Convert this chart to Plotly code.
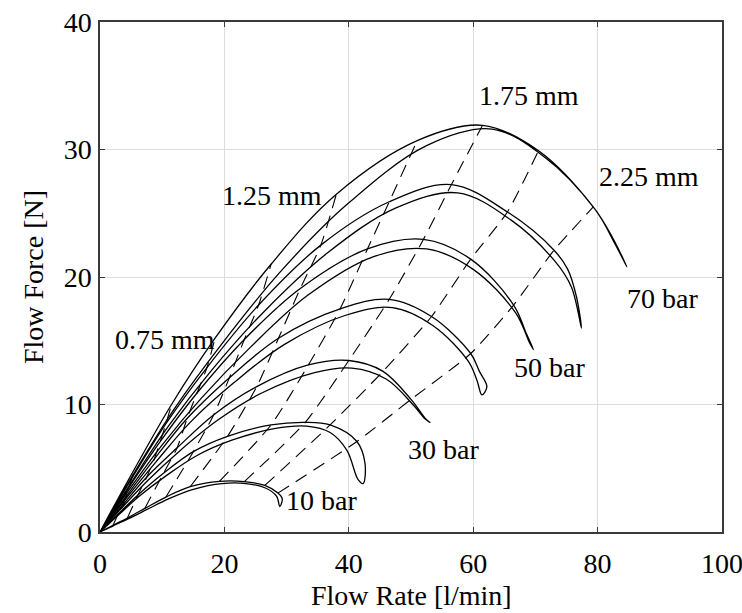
import plotly.graph_objects as go

# Valve opening steps (mm) at which every pressure curve is sampled
openings_mm = [0, 0.25, 0.5, 0.75, 1.0, 1.25, 1.5, 1.75, 2.0, 2.25]
pressures_bar = [10, 20, 30, 40, 50, 60, 70]

# Opening stroke: flow rate [l/min] and flow force [N] at each opening step
q_open = {
    10: [0, 2.1, 4.4, 7.2, 10.6, 14.5, 19.2, 23.2, 26.5, 28.6],
    20: [0, 2.9, 6.1, 10.2, 15.0, 20.5, 27.5, 33.0, 37.0, 41.3],
    30: [0, 3.6, 7.5, 12.4, 18.3, 25.2, 33.5, 40.0, 45.5, 50.0],
    40: [0, 4.2, 8.7, 14.0, 20.8, 28.7, 38.6, 46.5, 53.3, 59.6],
    50: [0, 4.65, 9.7, 15.6, 23.2, 32.2, 43.0, 52.0, 59.6, 66.5],
    60: [0, 5.1, 10.6, 17.2, 25.5, 35.5, 46.5, 56.5, 65.5, 73.0],
    70: [0, 5.5, 11.5, 18.5, 27.5, 38.0, 51.0, 61.5, 70.5, 79.3],
}
f_open = {
    10: [0, 0.53, 1.1, 1.85, 2.74, 3.55, 3.97, 3.95, 3.65, 3.05],
    20: [0, 1.4, 2.9, 4.6, 6.3, 7.5, 8.4, 8.6, 8.4, 7.1],
    30: [0, 2.1, 4.3, 6.6, 9.2, 11.4, 13.1, 13.45, 12.6, 10.4],
    40: [0, 2.8, 5.7, 8.9, 12.1, 15.2, 17.5, 18.25, 16.9, 14.0],
    50: [0, 3.5, 7.1, 10.9, 15.1, 19.1, 22.2, 22.95, 21.4, 17.8],
    60: [0, 4.2, 8.5, 12.9, 17.8, 22.5, 25.9, 27.25, 25.1, 22.1],
    70: [0, 4.9, 10.0, 15.2, 21.0, 26.5, 30.7, 31.9, 29.9, 25.5],
}
# Run-out of the opening stroke beyond the last step (ends at the turning point)
q_open_end = {
    10: [29.3, 28.9],
    20: [42.6, 42.3],
    30: [52.5, 53.05],
    40: [61.0, 62.2, 61.4],
    50: [68.6, 69.7],
    60: [75.2, 76.6, 77.4],
    70: [82.5, 84.7],
}
f_open_end = {
    10: [2.6, 2.0],
    20: [5.4, 3.8],
    30: [8.8, 8.6],
    40: [12.6, 11.4, 10.75],
    50: [15.5, 14.3],
    60: [20.6, 18.45, 16.0],
    70: [23.0, 20.8],
}

# Closing stroke at the same opening steps
q_close = {
    10: [0, 2.2, 4.6, 7.5, 11.0, 15.0, 19.6, 23.5, 26.6, 28.4],
    20: [0, 3.0, 6.3, 10.6, 15.6, 21.2, 28.0, 33.2, 37.0, 39.7],
    30: [0, 3.7, 7.8, 12.9, 19.0, 26.0, 34.5, 40.5, 46.0, 50.3],
    40: [0, 4.3, 9.0, 14.5, 21.5, 29.6, 39.5, 47.0, 53.5, 59.2],
    50: [0, 4.8, 10.1, 16.3, 24.2, 33.5, 44.0, 52.5, 60.0, 66.8],
    60: [0, 5.3, 11.0, 17.8, 26.4, 36.6, 47.5, 57.5, 66.0, 73.2],
    70: [0, 5.7, 12.0, 19.5, 28.8, 39.5, 52.5, 63.0, 71.5, 79.6],
}
f_close = {
    10: [0, 0.5, 1.05, 1.75, 2.6, 3.35, 3.8, 3.8, 3.45, 2.8],
    20: [0, 1.35, 2.8, 4.4, 6.0, 7.2, 8.1, 8.3, 7.8, 6.4],
    30: [0, 2.0, 4.1, 6.4, 8.8, 10.9, 12.5, 12.85, 12.0, 10.0],
    40: [0, 2.7, 5.5, 8.6, 11.7, 14.7, 17.0, 17.6, 16.2, 13.4],
    50: [0, 3.4, 6.9, 10.5, 14.5, 18.6, 21.6, 22.2, 20.6, 17.2],
    60: [0, 4.1, 8.3, 12.6, 17.3, 21.9, 25.4, 26.6, 24.5, 21.2],
    70: [0, 4.8, 9.7, 14.7, 20.3, 25.6, 30.3, 31.6, 29.4, 25.3],
}
q_close_end = {10: [], 20: [41.5], 30: [52.2], 40: [60.6], 50: [69.1], 60: [75.8], 70: [82.8]}
f_close_end = {10: [], 20: [4.1], 30: [8.9], 40: [11.9], 50: [14.8], 60: [19.2], 70: [22.6]}

pressure_labels = ["10 bar", "30 bar", "50 bar", "70 bar"]
pressure_label_q = [35.6, 55.3, 72.2, 90.5]
pressure_label_f = [2.5, 6.5, 12.9, 18.3]

opening_labels = ["0.75 mm", "1.25 mm", "1.75 mm", "2.25 mm"]
opening_label_q = [10.45, 27.7, 69.0, 88.2]
opening_label_f = [15.1, 26.4, 34.2, 27.9]

FONT = "Liberation Serif"
FSIZE = 28

fig = go.Figure()

# Constant-pressure loops: opening stroke out, closing stroke back
for p in pressures_bar:
    xs = q_open[p] + q_open_end[p] + list(reversed(q_close[p] + q_close_end[p]))
    ys = f_open[p] + f_open_end[p] + list(reversed(f_close[p] + f_close_end[p]))
    fig.add_trace(go.Scatter(
        x=xs, y=ys, mode="lines",
        line=dict(color="black", width=1.3, shape="spline", smoothing=1.0),
        hoverinfo="skip",
    ))

# Constant-opening lines through the curves (dashed)
for k in range(1, len(openings_mm)):
    fig.add_trace(go.Scatter(
        x=[q_open[p][k] for p in pressures_bar],
        y=[f_open[p][k] for p in pressures_bar],
        mode="lines",
        line=dict(color="black", width=1.1, dash="13px,8px", shape="spline", smoothing=0.6),
        hoverinfo="skip",
    ))

for txt, qx, fy in zip(pressure_labels + opening_labels,
                       pressure_label_q + opening_label_q,
                       pressure_label_f + opening_label_f):
    fig.add_annotation(x=qx, y=fy, text=txt, showarrow=False,
                       font=dict(family=FONT, size=FSIZE, color="black"),
                       xanchor="center", yanchor="middle")

# x-axis title placed below the tick labels
fig.add_annotation(x=0.5, y=0, xref="paper", yref="paper", text="Flow Rate [l/min]",
                   showarrow=False, xanchor="center", yanchor="middle", yshift=-63,
                   font=dict(family=FONT, size=FSIZE, color="black"))

axis_common = dict(
    showgrid=True, gridcolor="#dddddd", gridwidth=1,
    showline=True, linecolor="#3a3a3a", linewidth=1.5, mirror="ticks",
    ticks="inside", ticklen=5, tickwidth=1.2, tickcolor="#3a3a3a",
    zeroline=False, automargin=False,
    ticklabeloverflow="allow",
    tickfont=dict(family=FONT, size=FSIZE, color="black"),
)

fig.update_xaxes(
    range=[0, 100], tickvals=[0, 20, 40, 60, 80, 100],
    ticklabelstandoff=6,
    **axis_common,
)
fig.update_yaxes(
    range=[0, 40], tickvals=[0, 10, 20, 30, 40],
    title=dict(text="Flow Force [N]", font=dict(family=FONT, size=FSIZE, color="black"), standoff=12),
    ticklabelstandoff=1,
    **axis_common,
)

fig.update_layout(
    width=742, height=613,
    margin=dict(l=100, r=20, t=22, b=81),
    plot_bgcolor="white", paper_bgcolor="white",
    showlegend=False,
    font=dict(family=FONT, size=FSIZE, color="black"),
)

fig.write_html(
    "out.html",
    config={"displayModeBar": False},
    post_script="document.body.style.margin='0px';document.body.style.padding='0px';",
)
